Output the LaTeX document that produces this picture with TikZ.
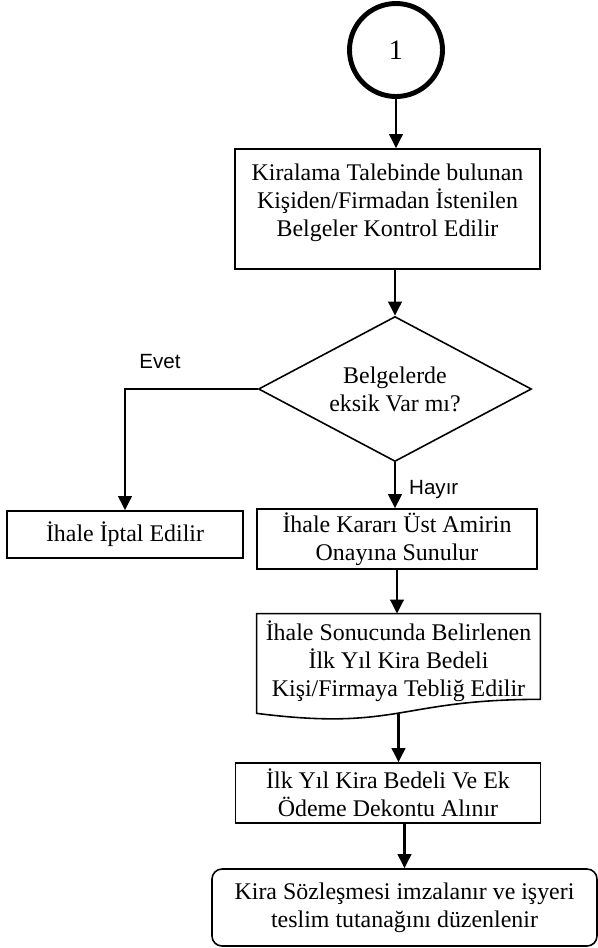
\documentclass[tikz,border=0pt]{standalone}
\usepackage{fontspec}
\setmainfont{Liberation Serif}
\newfontfamily\labelfont{Liberation Sans}
\usetikzlibrary{arrows.meta, shapes, positioning}

\begin{document}
\begin{tikzpicture}[auto,
 font=\fontsize{13.6}{15.9}\selectfont,
 box/.style={rectangle,draw,line width=0.9pt,align=center,inner sep=2pt},
 dec/.style={diamond,draw,line width=0.9pt,align=center,aspect=1.9,inner sep=0pt,
   minimum width=5.46cm,minimum height=2.9cm},
 arr/.style={line width=1.6pt,-{Triangle[length=8pt,width=7.6pt]}},
 lbl/.style={font=\labelfont\fontsize{11.7}{14}\selectfont}]
  \useasboundingbox (0,0) rectangle (11.96,-18.96);

  \node[circle,draw,line width=2.8pt,minimum size=1.86cm,font=\fontsize{16}{18}\selectfont] (1) at (7.92,-1.00) {1};
  \node[box,minimum width=6.1cm,minimum height=2.4cm] (2) at (7.75,-4.18)
   {Kiralama Talebinde bulunan\\Kişiden/Firmadan İstenilen\\Belgeler Kontrol Edilir\\[-6pt]\mbox{}};
  \node[dec] (3) at (7.90,-7.78) {Belgelerde\\eksik Var mı?};
  \node[box,minimum width=4.72cm,minimum height=0.94cm] (4) at (2.50,-10.69) {İhale İptal Edilir};
  \node[box,minimum width=5.6cm,minimum height=1.16cm] (5) at (7.94,-10.78)
   {İhale Kararı Üst Amirin\\Onayına Sunulur};
  \node[align=center,inner sep=0pt,minimum width=5.66cm,minimum height=1.88cm] (6) at (7.97,-13.22)
   {İhale Sonucunda Belirlenen\\İlk Yıl Kira Bedeli\\Kişi/Firmaya Tebliğ Edilir};
  \node[box,minimum width=6.1cm,minimum height=1.2cm] (7) at (7.76,-15.86)
   {İlk Yıl Kira Bedeli Ve Ek\\Ödeme Dekontu Alınır};
  \node[box,rounded corners=0.2cm,minimum width=7.7cm,minimum height=1.54cm] (8) at (8.09,-18.15)
   {Kira Sözleşmesi imzalanır ve işyeri\\teslim tutanağını düzenlenir};

  % document shape of node 6
  \draw[line width=0.9pt] (6.north west) -- (6.north east) -- ([yshift=0.18cm]6.south east)
   .. controls ([yshift=0.18cm]6.south) and ([yshift=-0.46cm]6.south) .. ([yshift=-0.10cm]6.south west) -- cycle;
  \coordinate (6b) at ([yshift=-0.10cm]6.south);

  \node[lbl] (e) at (3.20,-7.24) {Evet};
  \node[lbl,anchor=west] (h) at (8.06,-9.80) {Hayır};

  \draw[arr] (1) -- (1 |- 2.north);
  \draw[arr] (2.south -| 3) -- (3);
  \draw[arr] (3.west) -| (4.north);
  \draw[arr] (3) -- (3 |- 5.north);
  \draw[arr] (5) -- (5 |- 6.north);
  \draw[arr] (6b) -- (6b |- 7.north);
  \draw[arr] (7.south -| 8) -- (8);
\end{tikzpicture}
\end{document}
